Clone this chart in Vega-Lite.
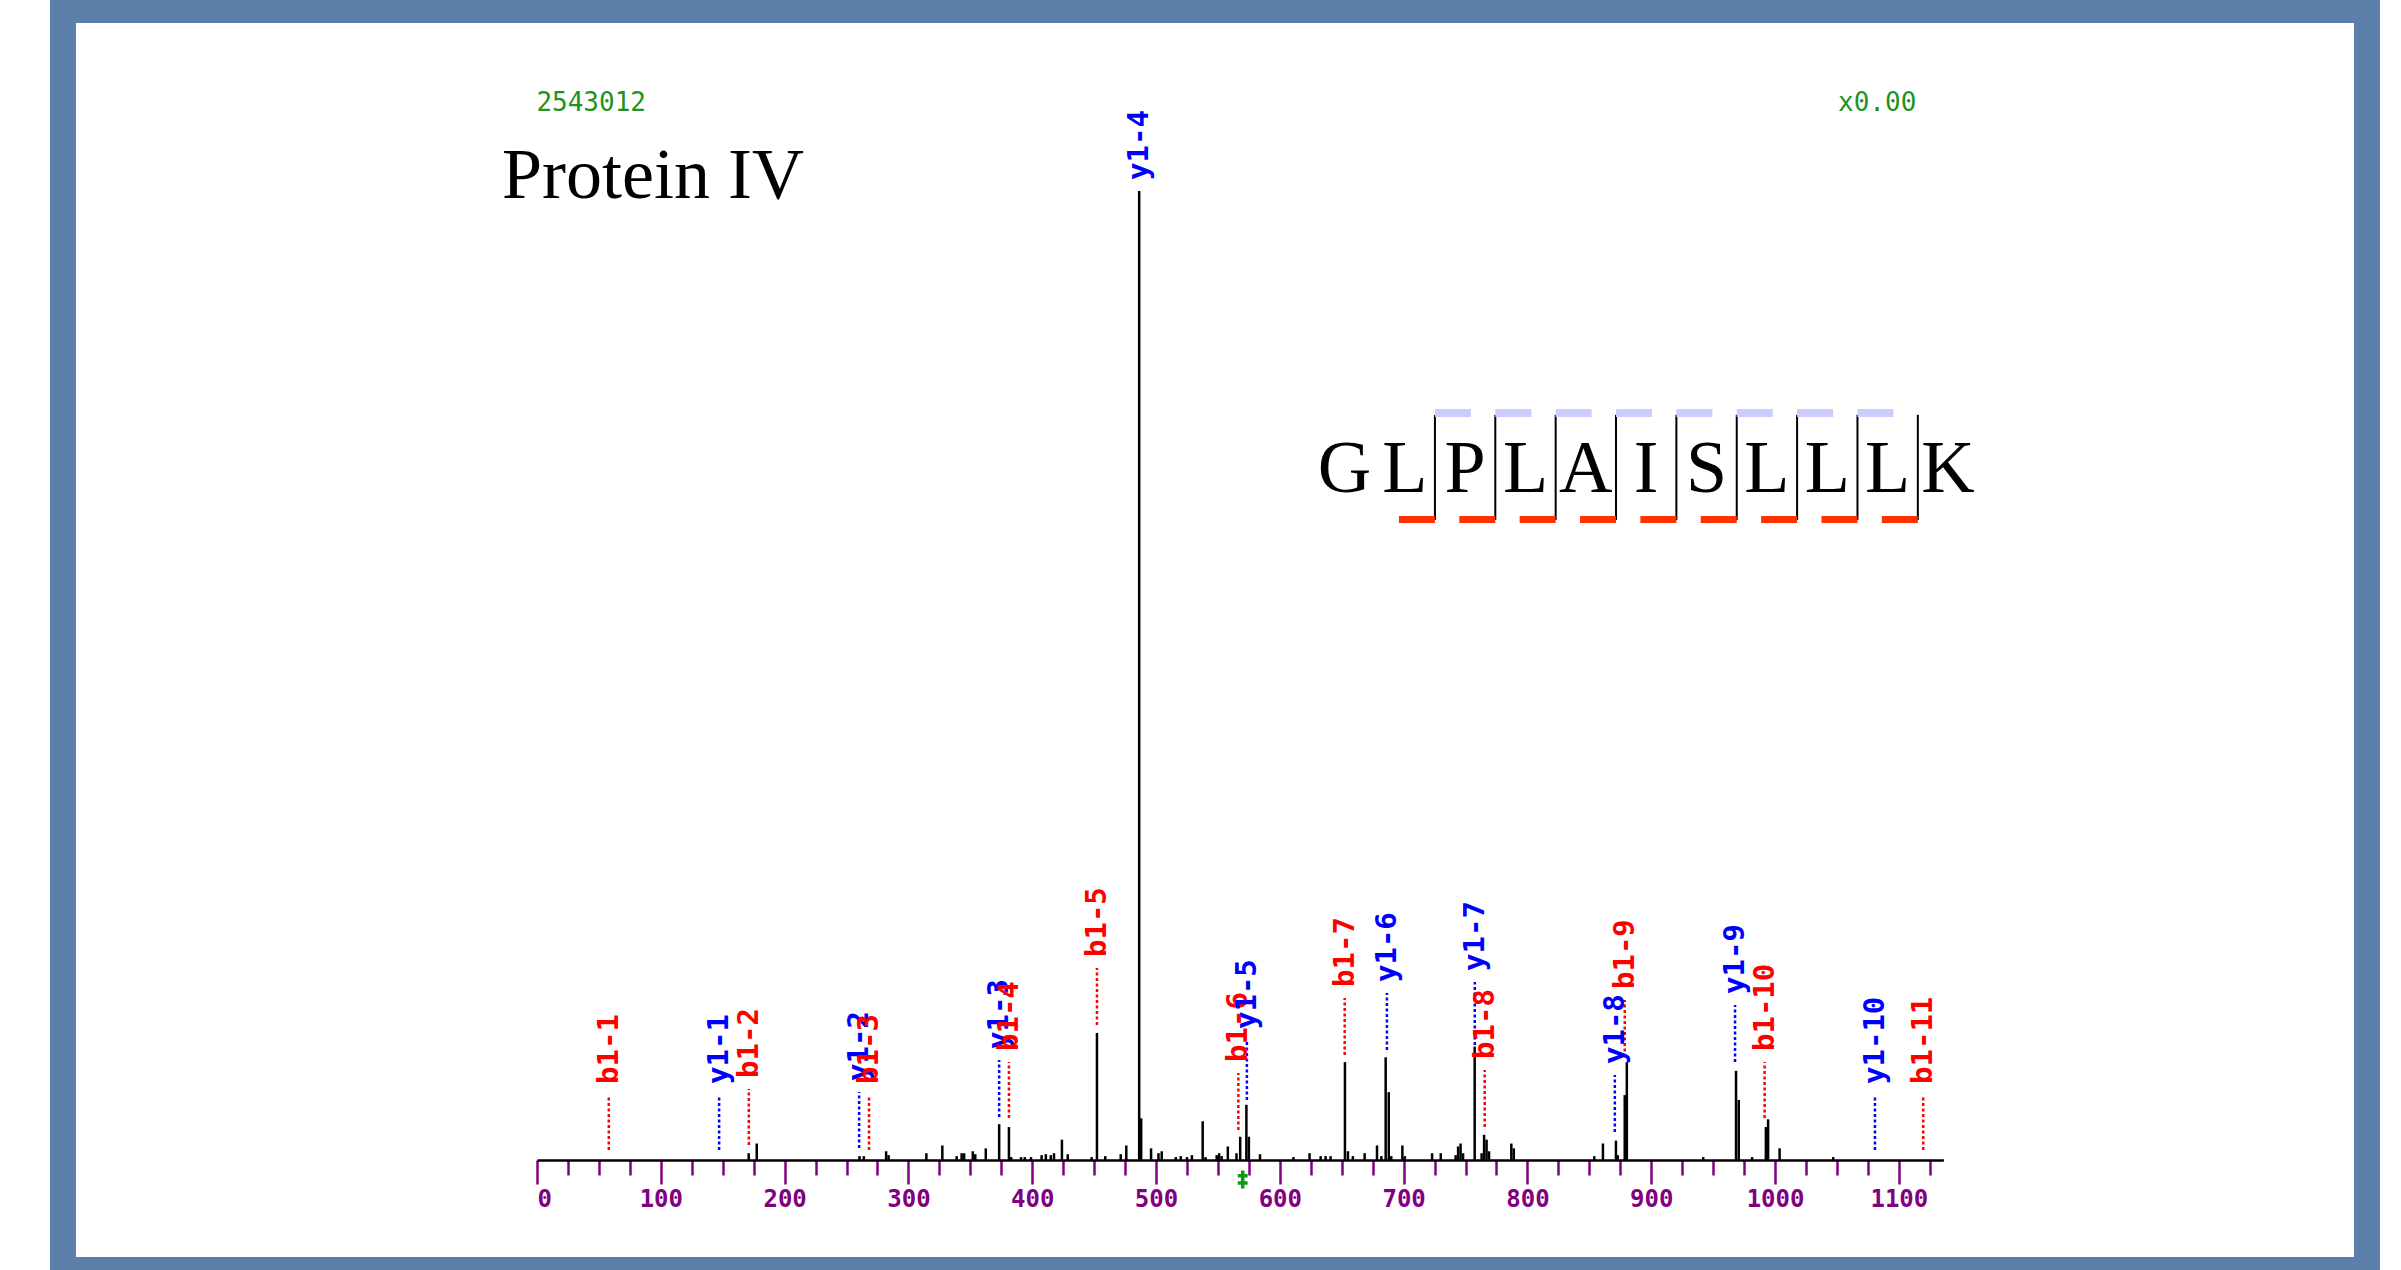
{
  "$schema": "https://vega.github.io/schema/vega-lite/v6.json",
  "width": 2304,
  "height": 1260,
  "autosize": {"type": "none"},
  "padding": {"left": 63, "top": 10, "right": 34, "bottom": 0},
  "background": "white",
  "config": {"view": {"fill": "white", "stroke": "#5b7fa8", "strokeWidth": 26}},
  "datasets": {
    "peaks": [
      {"mz": 171.0, "i": 0.7}, {"mz": 177.5, "i": 1.7}, {"mz": 260.5, "i": 0.4}, {"mz": 264, "i": 0.4},
      {"mz": 282, "i": 0.9}, {"mz": 284, "i": 0.5}, {"mz": 314.5, "i": 0.7}, {"mz": 327.4, "i": 1.5},
      {"mz": 339, "i": 0.4}, {"mz": 343, "i": 0.7}, {"mz": 345, "i": 0.7}, {"mz": 352, "i": 0.9},
      {"mz": 354, "i": 0.6}, {"mz": 362.5, "i": 1.2}, {"mz": 373.3, "i": 3.7}, {"mz": 381.2, "i": 3.4},
      {"mz": 383, "i": 0.3}, {"mz": 391, "i": 0.3}, {"mz": 394, "i": 0.3}, {"mz": 399, "i": 0.3},
      {"mz": 407.6, "i": 0.5}, {"mz": 411, "i": 0.6}, {"mz": 415, "i": 0.5}, {"mz": 417.6, "i": 0.7},
      {"mz": 424, "i": 2.1}, {"mz": 428.7, "i": 0.6}, {"mz": 448, "i": 0.3}, {"mz": 452.3, "i": 13.1},
      {"mz": 459, "i": 0.4}, {"mz": 471.5, "i": 0.6}, {"mz": 476, "i": 1.5}, {"mz": 486.4, "i": 100},
      {"mz": 488, "i": 4.3}, {"mz": 496, "i": 1.2}, {"mz": 502, "i": 0.7}, {"mz": 504.6, "i": 0.9},
      {"mz": 516, "i": 0.3}, {"mz": 520, "i": 0.4}, {"mz": 525, "i": 0.3}, {"mz": 529, "i": 0.5},
      {"mz": 537.7, "i": 4.0}, {"mz": 540, "i": 0.3}, {"mz": 549, "i": 0.5}, {"mz": 551, "i": 0.7},
      {"mz": 553, "i": 0.4}, {"mz": 558, "i": 1.4}, {"mz": 565, "i": 0.7}, {"mz": 568, "i": 2.4},
      {"mz": 573, "i": 5.7}, {"mz": 575, "i": 2.4}, {"mz": 584, "i": 0.6}, {"mz": 611, "i": 0.3},
      {"mz": 624, "i": 0.7}, {"mz": 633, "i": 0.4}, {"mz": 637, "i": 0.4}, {"mz": 641, "i": 0.4},
      {"mz": 652.6, "i": 10.1}, {"mz": 655, "i": 0.9}, {"mz": 659, "i": 0.4}, {"mz": 668.5, "i": 0.7},
      {"mz": 678.5, "i": 1.5}, {"mz": 682, "i": 0.4}, {"mz": 685.5, "i": 10.6}, {"mz": 688, "i": 7.0},
      {"mz": 690, "i": 0.4}, {"mz": 699, "i": 1.5}, {"mz": 701, "i": 0.4}, {"mz": 723, "i": 0.7},
      {"mz": 730, "i": 0.7}, {"mz": 742, "i": 0.5}, {"mz": 744, "i": 1.4}, {"mz": 746, "i": 1.7},
      {"mz": 748, "i": 0.7}, {"mz": 757.4, "i": 11.7}, {"mz": 763, "i": 0.7}, {"mz": 765, "i": 2.6},
      {"mz": 767, "i": 2.1}, {"mz": 769, "i": 0.9}, {"mz": 787, "i": 1.7}, {"mz": 789, "i": 1.2},
      {"mz": 854, "i": 0.4}, {"mz": 861, "i": 1.7}, {"mz": 871.5, "i": 2.0}, {"mz": 873, "i": 0.5},
      {"mz": 878.6, "i": 6.7}, {"mz": 880.3, "i": 10.1}, {"mz": 942, "i": 0.3}, {"mz": 968.5, "i": 9.2},
      {"mz": 970.7, "i": 6.2}, {"mz": 981.5, "i": 0.3}, {"mz": 992.6, "i": 3.4}, {"mz": 994.4, "i": 4.2},
      {"mz": 1003.7, "i": 1.2}, {"mz": 1047, "i": 0.3}
    ],
    "ions": [
      {"ion": "b1-1", "type": "b", "mz": 58.0, "lo": 1.03, "hi": 6.71},
      {"ion": "y1-1", "type": "y", "mz": 147.1, "lo": 1.03, "hi": 6.71},
      {"ion": "b1-2", "type": "b", "mz": 171.1, "lo": 1.55, "hi": 7.33},
      {"ion": "y1-2", "type": "y", "mz": 260.2, "lo": 1.24, "hi": 7.02},
      {"ion": "b1-3", "type": "b", "mz": 268.2, "lo": 1.03, "hi": 6.71},
      {"ion": "y1-3", "type": "y", "mz": 373.3, "lo": 4.44, "hi": 10.32},
      {"ion": "b1-4", "type": "b", "mz": 381.2, "lo": 4.33, "hi": 10.11},
      {"ion": "b1-5", "type": "b", "mz": 452.3, "lo": 13.93, "hi": 19.81},
      {"ion": "y1-4", "type": "y", "mz": 486.4, "lo": 100, "hi": 100},
      {"ion": "b1-6", "type": "b", "mz": 566.5, "lo": 3.1, "hi": 8.98},
      {"ion": "y1-5", "type": "y", "mz": 573.4, "lo": 6.19, "hi": 12.38},
      {"ion": "b1-7", "type": "b", "mz": 652.4, "lo": 10.84, "hi": 16.72},
      {"ion": "y1-6", "type": "y", "mz": 686.5, "lo": 11.35, "hi": 17.23},
      {"ion": "y1-7", "type": "y", "mz": 757.5, "lo": 11.87, "hi": 18.37},
      {"ion": "b1-8", "type": "b", "mz": 765.5, "lo": 3.41, "hi": 9.29},
      {"ion": "y1-8", "type": "y", "mz": 870.6, "lo": 2.89, "hi": 8.77},
      {"ion": "b1-9", "type": "b", "mz": 878.6, "lo": 10.63, "hi": 16.51},
      {"ion": "y1-9", "type": "y", "mz": 967.7, "lo": 10.11, "hi": 16.0},
      {"ion": "b1-10", "type": "b", "mz": 991.6, "lo": 4.33, "hi": 10.11},
      {"ion": "y1-10", "type": "y", "mz": 1080.7, "lo": 1.03, "hi": 6.71},
      {"ion": "b1-11", "type": "b", "mz": 1119.7, "lo": 1.03, "hi": 6.71}
    ],
    "seq": [
      {"pos": 1, "aa": "G"}, {"pos": 2, "aa": "L"}, {"pos": 3, "aa": "P"}, {"pos": 4, "aa": "L"},
      {"pos": 5, "aa": "A"}, {"pos": 6, "aa": "I"}, {"pos": 7, "aa": "S"}, {"pos": 8, "aa": "L"},
      {"pos": 9, "aa": "L"}, {"pos": 10, "aa": "L"}, {"pos": 11, "aa": "K"}
    ],
    "cuts": [
      {"site": 2.5, "b": 1, "y": 1}, {"site": 3.5, "b": 1, "y": 1}, {"site": 4.5, "b": 1, "y": 1},
      {"site": 5.5, "b": 1, "y": 1}, {"site": 6.5, "b": 1, "y": 1}, {"site": 7.5, "b": 1, "y": 1},
      {"site": 8.5, "b": 1, "y": 1}, {"site": 9.5, "b": 1, "y": 1}, {"site": 10.5, "b": 1, "y": 0}
    ]
  },
  "resolve": {"scale": {"x": "independent", "y": "independent"}},
  "layer": [
    {
      "layer": [
        {
          "data": {"name": "peaks"},
          "mark": {"type": "rule", "color": "black", "strokeWidth": 2.5},
          "encoding": {
            "x": {
              "field": "mz", "type": "quantitative",
              "scale": {"domain": [0, 1136], "range": [474, 1880.4], "nice": false, "zero": false},
              "axis": {
                "orient": "bottom", "offset": -110, "title": null, "grid": false,
                "values": [0,25,50,75,100,125,150,175,200,225,250,275,300,325,350,375,400,425,450,475,500,525,550,575,600,625,650,675,700,725,750,775,800,825,850,875,900,925,950,975,1000,1025,1050,1075,1100,1125],
                "format": "d",
                "domain": true, "domainColor": "black", "domainWidth": 2.5,
                "ticks": true, "tickColor": "#800080", "tickWidth": 2.5,
                "tickSize": {"condition": {"test": "datum.value % 100 === 0", "value": 24}, "value": 15},
                "labelExpr": "datum.value % 100 === 0 ? datum.label : ''",
                "labelColor": "#800080", "labelFont": "DejaVu Sans Mono", "labelFontSize": 24,
                "labelFontWeight": "bold", "labelPadding": 15, "labelBaseline": "middle",
                "labelFlush": true, "labelOverlap": false, "labelBound": false, "zindex": 1
              }
            },
            "y": {
              "field": "i", "type": "quantitative",
              "scale": {"domain": [0, 100], "range": [1150, 181], "nice": false, "zero": false},
              "axis": null
            },
            "y2": {"datum": 0}
          }
        },
        {
          "data": {"name": "ions"},
          "mark": {"type": "rule", "strokeWidth": 2.5, "strokeDash": [3, 2.5]},
          "encoding": {
            "x": {"field": "mz", "type": "quantitative"},
            "y": {"field": "lo", "type": "quantitative"},
            "y2": {"field": "hi"},
            "color": {"field": "type", "type": "nominal", "scale": {"domain": ["b", "y"], "range": ["#ff0000", "#0000ff"]}, "legend": null}
          }
        },
        {
          "data": {"name": "ions"},
          "mark": {"type": "text", "angle": 270, "align": "left", "baseline": "middle", "font": "DejaVu Sans Mono", "fontWeight": "bold", "fontSize": 29, "yOffset": -11},
          "encoding": {
            "x": {"field": "mz", "type": "quantitative"},
            "y": {"field": "hi", "type": "quantitative"},
            "text": {"field": "ion"},
            "color": {"field": "type", "type": "nominal", "scale": {"domain": ["b", "y"], "range": ["#ff0000", "#0000ff"]}, "legend": null}
          }
        },
        {
          "data": {"values": [{}]},
          "mark": {"type": "point", "shape": "M0,-1V1M-0.55,-0.4H0.55M-0.55,0.4H0.55", "size": 324, "filled": false, "stroke": "#119911", "strokeWidth": 3.5, "opacity": 1},
          "encoding": {
            "x": {"datum": 570, "type": "quantitative"},
            "y": {"datum": -2.0, "type": "quantitative"}
          }
        },
        {
          "data": {"values": [{}]},
          "mark": {"type": "text", "align": "left", "baseline": "middle", "font": "DejaVu Sans Mono", "fontSize": 26, "color": "#1f931f", "text": "2543012"},
          "encoding": {
            "x": {"datum": -0.5, "type": "quantitative"},
            "y": {"datum": 109.08, "type": "quantitative"}
          }
        },
        {
          "data": {"values": [{}]},
          "mark": {"type": "text", "align": "left", "baseline": "middle", "font": "DejaVu Sans Mono", "fontSize": 26, "color": "#1f931f", "text": "x0.00"},
          "encoding": {
            "x": {"datum": 1050.9, "type": "quantitative"},
            "y": {"datum": 109.08, "type": "quantitative"}
          }
        },
        {
          "data": {"values": [{}]},
          "mark": {"type": "text", "align": "left", "baseline": "alphabetic", "font": "Liberation Serif", "fontSize": 72, "color": "black", "text": "Protein IV"},
          "encoding": {
            "x": {"datum": -28.3, "type": "quantitative"},
            "y": {"datum": 99.28, "type": "quantitative"}
          }
        }
      ]
    },
    {
      "layer": [
        {
          "data": {"name": "seq"},
          "mark": {"type": "text", "align": "center", "baseline": "alphabetic", "font": "Liberation Serif", "fontSize": 74, "color": "black"},
          "encoding": {
            "x": {"field": "pos", "type": "quantitative", "scale": {"domain": [1, 11], "range": [1281.4, 1885], "nice": false, "zero": false}, "axis": null},
            "y": {"datum": 68.94, "type": "quantitative", "scale": {"domain": [0, 100], "range": [1150, 181], "nice": false, "zero": false}, "axis": null},
            "text": {"field": "aa"}
          }
        },
        {
          "data": {"name": "cuts"},
          "mark": {"type": "rule", "color": "black", "strokeWidth": 2},
          "encoding": {
            "x": {"field": "site", "type": "quantitative"},
            "y": {"datum": 66.05, "type": "quantitative"},
            "y2": {"datum": 76.9}
          }
        },
        {
          "data": {"name": "cuts"},
          "transform": [{"filter": "datum.y == 1"}],
          "mark": {"type": "rule", "color": "#ccccff", "strokeWidth": 8, "x2Offset": 36},
          "encoding": {
            "x": {"field": "site", "type": "quantitative"},
            "x2": {"field": "site"},
            "y": {"datum": 77.09, "type": "quantitative"}
          }
        },
        {
          "data": {"name": "cuts"},
          "transform": [{"filter": "datum.b == 1"}],
          "mark": {"type": "rule", "color": "#ff3300", "strokeWidth": 7, "xOffset": -36},
          "encoding": {
            "x": {"field": "site", "type": "quantitative"},
            "x2": {"field": "site"},
            "y": {"datum": 66.1, "type": "quantitative"}
          }
        }
      ]
    }
  ]
}
